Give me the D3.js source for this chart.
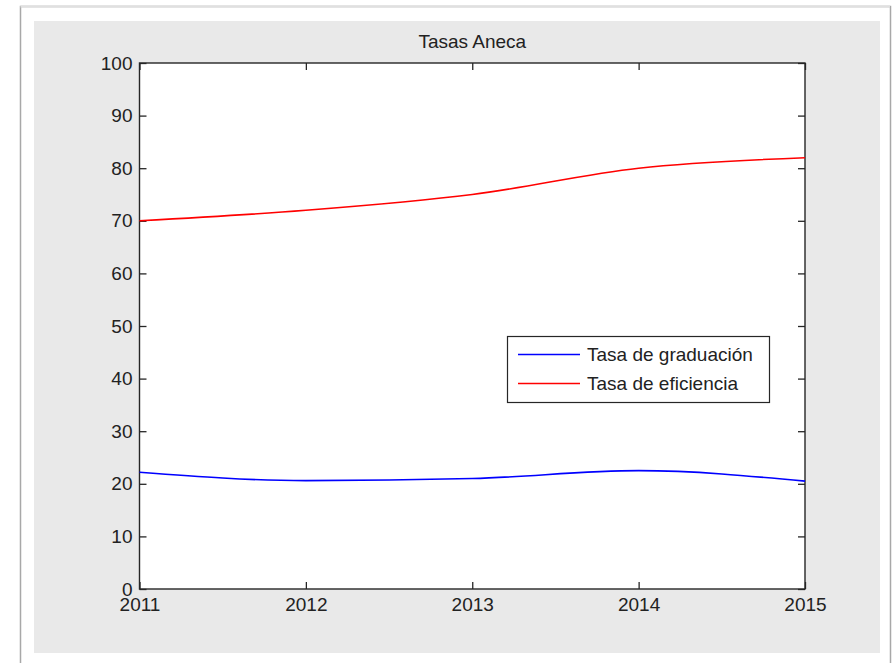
<!DOCTYPE html>
<html>
<head>
<meta charset="utf-8">
<script src="https://cdn.jsdelivr.net/npm/d3@7"></script>
<style>
  html, body { margin: 0; padding: 0; background: #ffffff; }
  svg { display: block; font-family: "Liberation Sans", Arial, sans-serif; }
</style>
</head>
<body>
<svg id="chart" width="895" height="663"></svg>
<script>
// ---- data ----
const years = [2011, 2012, 2013, 2014, 2015];
const graduacion = [22.2, 20.6, 21.0, 22.5, 20.5];
const eficiencia = [70, 72, 75, 80, 82];
const yTicks = [0, 10, 20, 30, 40, 50, 60, 70, 80, 90, 100];
const xTicks = [2011, 2012, 2013, 2014, 2015];
const seriesNames = ["Tasa de graduación", "Tasa de eficiencia"];
const seriesColors = ["#0000ff", "#ff0000"];
const title = "Tasas Aneca";

// ---- layout ----
const W = 895, H = 663;
const plot = { left: 139.5, right: 805, top: 63, bottom: 589 };
const fontSize = 19;

const svg = d3.select("#chart");

// outer white frame with border
svg.append("rect").attr("x", 20.5).attr("y", 6.5).attr("width", 870).attr("height", 670)
  .attr("fill", "#ffffff").attr("stroke", "#a8a8a8").attr("stroke-width", 1.5);
svg.append("line").attr("x1", 20.5).attr("x2", 890).attr("y1", 6.5).attr("y2", 6.5)
  .attr("stroke", "#e0e0e0").attr("stroke-width", 2);

// gray figure background
svg.append("rect").attr("x", 34).attr("y", 21).attr("width", 846).attr("height", 632)
  .attr("fill", "#e9e9e9");

// plot area
svg.append("rect").attr("x", plot.left).attr("y", plot.top)
  .attr("width", plot.right - plot.left).attr("height", plot.bottom - plot.top)
  .attr("fill", "#ffffff");

const x = d3.scaleLinear().domain([d3.min(years), d3.max(years)]).range([plot.left, plot.right]);
const y = d3.scaleLinear().domain([0, 100]).range([plot.bottom, plot.top]);

function styleAxis(g, showText) {
  g.select(".domain").remove();
  g.selectAll(".tick line").attr("stroke", "#262626").attr("stroke-width", 1.3);
  g.selectAll(".tick text").attr("fill", "#222").attr("font-size", fontSize)
    .attr("font-family", "'Liberation Sans', Arial, sans-serif");
  if (!showText) g.selectAll(".tick text").remove();
}

const tickLen = 7;
svg.append("g").attr("transform", `translate(0,${plot.bottom})`)
  .call(d3.axisBottom(x).tickValues(xTicks).tickFormat(d3.format("d")).tickSize(-tickLen).tickPadding(9))
  .call(g => styleAxis(g, true));
svg.append("g").attr("transform", `translate(0,${plot.top})`)
  .call(d3.axisTop(x).tickValues(xTicks).tickSize(-tickLen))
  .call(g => styleAxis(g, false));
svg.append("g").attr("transform", `translate(${plot.left},0)`)
  .call(d3.axisLeft(y).tickValues(yTicks).tickFormat(d3.format("d")).tickSize(-tickLen).tickPadding(7))
  .call(g => styleAxis(g, true));
svg.append("g").attr("transform", `translate(${plot.right},0)`)
  .call(d3.axisRight(y).tickValues(yTicks).tickSize(-tickLen))
  .call(g => styleAxis(g, false));

// box
svg.append("rect").attr("x", plot.left).attr("y", plot.top)
  .attr("width", plot.right - plot.left).attr("height", plot.bottom - plot.top)
  .attr("fill", "none").attr("stroke", "#262626").attr("stroke-width", 1.4);

// lines
const line = d3.line().x(d => x(d[0])).y(d => y(d[1])).curve(d3.curveMonotoneX);
const series = [graduacion, eficiencia];
series.forEach((vals, i) => {
  svg.append("path")
    .datum(years.map((yr, j) => [yr, vals[j]]))
    .attr("fill", "none")
    .attr("stroke", seriesColors[i])
    .attr("stroke-width", 1.6)
    .attr("d", line);
});

// title
svg.append("text").attr("x", (plot.left + plot.right) / 2).attr("y", 48)
  .attr("text-anchor", "middle").attr("font-size", fontSize).attr("fill", "#222")
  .text(title);

// legend
const lg = svg.append("g");
lg.append("rect").attr("x", 507.5).attr("y", 336.5).attr("width", 262).attr("height", 66)
  .attr("fill", "#ffffff").attr("stroke", "#262626").attr("stroke-width", 1.2);
seriesNames.forEach((name, i) => {
  const yy = 354.5 + i * 29;
  lg.append("line").attr("x1", 518).attr("x2", 580).attr("y1", yy).attr("y2", yy)
    .attr("stroke", seriesColors[i]).attr("stroke-width", 1.6);
  lg.append("text").attr("x", 587).attr("y", yy).attr("dy", "0.35em")
    .attr("font-size", fontSize).attr("fill", "#222").text(name);
});
</script>
</body>
</html>
